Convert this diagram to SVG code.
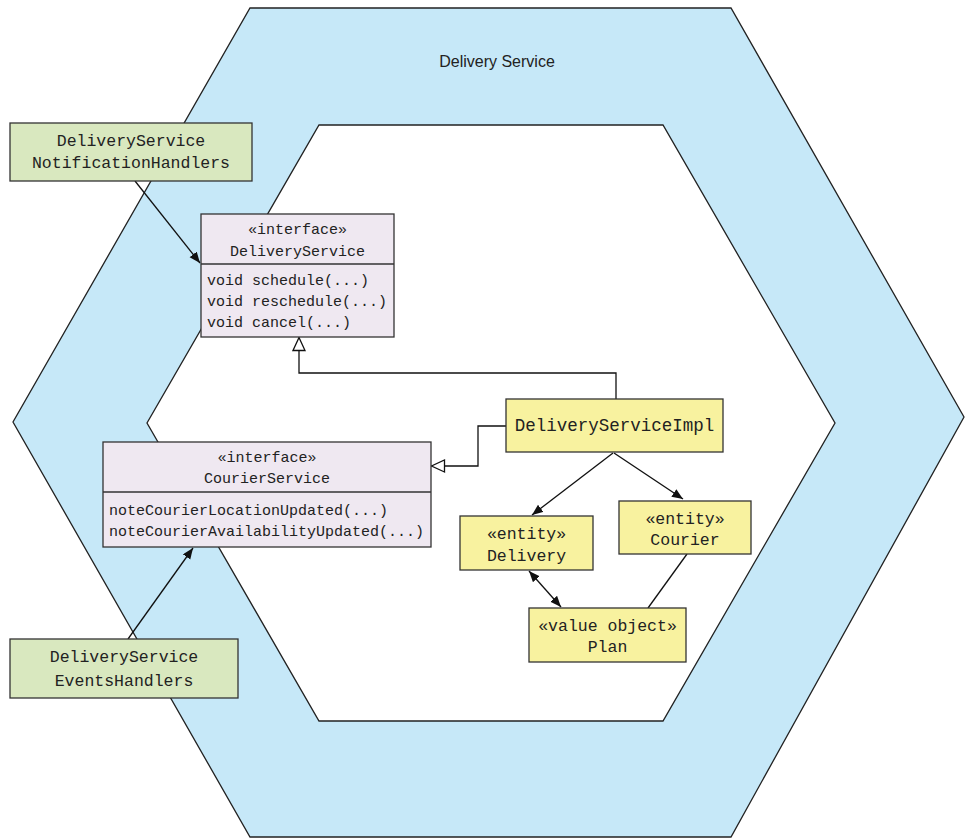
<svg xmlns="http://www.w3.org/2000/svg" width="965" height="838" viewBox="0 0 965 838">
<style>
.hex{stroke:#222;stroke-width:1.3;stroke-linejoin:miter}
.box{stroke:#333;stroke-width:1.3}
.green{fill:#d9e8bf}
.lav{fill:#efe8f1}
.yel{fill:#f8f29f}
.mono{font-family:"Liberation Mono","DejaVu Sans Mono",monospace;fill:#222;text-anchor:middle;dominant-baseline:central}
.meth{text-anchor:start}
.conn{fill:none;stroke:#111;stroke-width:1.3}
</style>
<defs>
<marker id="arr" markerUnits="userSpaceOnUse" markerWidth="12" markerHeight="10" refX="11" refY="4.5" orient="auto-start-reverse" viewBox="0 0 12 10">
<path d="M0,0 L11,4.5 L0,9 z" fill="#111"/>
</marker>
<marker id="tri" markerUnits="userSpaceOnUse" markerWidth="16" markerHeight="16" refX="14" refY="7" orient="auto" viewBox="0 0 16 16">
<path d="M1,1 L14,7 L1,13 z" fill="#fff" stroke="#111" stroke-width="1.3"/>
</marker>
</defs>
<g id="hexagons">
<polygon class="hex" fill="#c6e8f8" points="250,8 731,8 964,417 731,837 250,837 13,422"/>
<polygon class="hex" fill="#fff" points="319,125 663,125 835,423 663,721 319,721 147,423"/>
<text x="497" y="61" font-family="Liberation Sans, Arial, sans-serif" font-size="16" fill="#222" text-anchor="middle" dominant-baseline="central">Delivery Service</text>
</g>
<g id="connectors">
<path class="conn" d="M135,181 L200,263" marker-end="url(#arr)"/>
<path class="conn" d="M128,639 L193,548" marker-end="url(#arr)"/>
<path class="conn" d="M616,399 V373 H299 V337.5" marker-end="url(#tri)"/>
<path class="conn" d="M506,426 H478 V466 H431.5" marker-end="url(#tri)"/>
<path class="conn" d="M613,453 L532,515" marker-end="url(#arr)"/>
<path class="conn" d="M614,453 L683,499" marker-end="url(#arr)"/>
<path class="conn" d="M529,571 L561,607" marker-start="url(#arr)" marker-end="url(#arr)"/>
<path class="conn" d="M687,554 L648,608"/>
</g>
<g id="notificationHandlers">
<rect class="box green" x="10" y="123" width="242" height="58"/>
<text class="mono" font-size="16.5" x="131" y="141">DeliveryService</text>
<text class="mono" font-size="16.5" x="131" y="163">NotificationHandlers</text>
</g>
<g id="deliveryServiceInterface">
<rect class="box lav" x="201" y="214" width="193" height="123"/>
<line class="box" x1="201" y1="264" x2="394" y2="264"/>
<text class="mono" font-size="15" x="297.5" y="230">«interface»</text>
<text class="mono" font-size="15" x="297.5" y="252">DeliveryService</text>
<text class="mono meth" font-size="15" x="207" y="281">void schedule(...)</text>
<text class="mono meth" font-size="15" x="207" y="302">void reschedule(...)</text>
<text class="mono meth" font-size="15" x="207" y="323">void cancel(...)</text>
</g>
<g id="courierServiceInterface">
<rect class="box lav" x="103" y="442" width="328" height="105"/>
<line class="box" x1="103" y1="492" x2="431" y2="492"/>
<text class="mono" font-size="15" x="267" y="458">«interface»</text>
<text class="mono" font-size="15" x="267" y="479">CourierService</text>
<text class="mono meth" font-size="15" x="109" y="511">noteCourierLocationUpdated(...)</text>
<text class="mono meth" font-size="15" x="109" y="532">noteCourierAvailabilityUpdated(...)</text>
</g>
<g id="deliveryServiceImpl">
<rect class="box yel" x="506" y="399" width="217" height="53"/>
<text class="mono" font-size="17.5" x="614.5" y="426">DeliveryServiceImpl</text>
</g>
<g id="delivery">
<rect class="box yel" x="460" y="516" width="133" height="54"/>
<text class="mono" font-size="16.5" x="526.5" y="534">«entity»</text>
<text class="mono" font-size="16.5" x="526.5" y="556">Delivery</text>
</g>
<g id="courier">
<rect class="box yel" x="619" y="501" width="132" height="53"/>
<text class="mono" font-size="16.5" x="685" y="519">«entity»</text>
<text class="mono" font-size="16.5" x="685" y="540">Courier</text>
</g>
<g id="plan">
<rect class="box yel" x="529" y="608" width="157" height="54"/>
<text class="mono" font-size="16.5" x="607.5" y="626">«value object»</text>
<text class="mono" font-size="16.5" x="607.5" y="647">Plan</text>
</g>
<g id="eventsHandlers">
<rect class="box green" x="10" y="639" width="228" height="59"/>
<text class="mono" font-size="16.5" x="124" y="657">DeliveryService</text>
<text class="mono" font-size="16.5" x="124" y="681">EventsHandlers</text>
</g>
</svg>
